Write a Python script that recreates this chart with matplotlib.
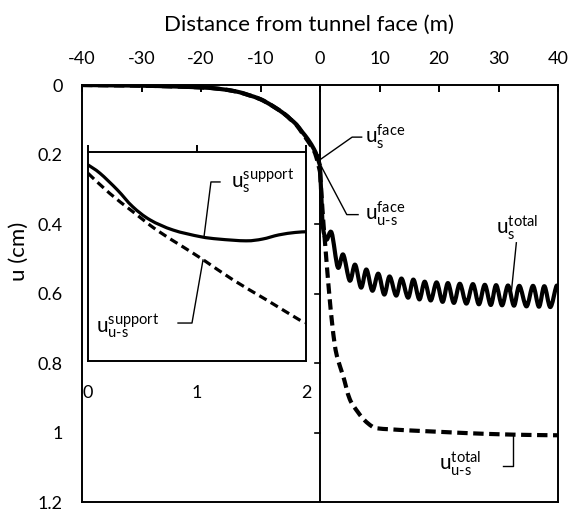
import numpy as np
import matplotlib
matplotlib.use("Agg")
import matplotlib.pyplot as plt
from matplotlib.path import Path
from matplotlib.patches import PathPatch

plt.rcParams["font.family"] = ["Lato", "DejaVu Sans"]
plt.rcParams["mathtext.fontset"] = "custom"
plt.rcParams["mathtext.rm"] = "Lato"
plt.rcParams["mathtext.it"] = "Lato"
plt.rcParams["lines.scale_dashes"] = False

# ---- main chart: displacement along the tunnel (m, cm) ----
x_pre = [-40, -35, -30, -25, -20, -17, -14, -12, -10, -8, -6, -5, -4, -3, -2, -1, -0.5, 0]
us_pre = [0.0, 0.001, 0.002, 0.004, 0.007, 0.011, 0.019, 0.029, 0.041, 0.06, 0.083,
          0.098, 0.113, 0.135, 0.157, 0.185, 0.205, 0.232]
uus_pre = [0.0, 0.001, 0.002, 0.004, 0.007, 0.011, 0.019, 0.029, 0.041, 0.06, 0.083,
           0.098, 0.114, 0.138, 0.162, 0.19, 0.215, 0.25]

# supported, behind the face (oscillates with each excavation round)
x_us_post = [0, 0.25, 0.5, 1.1, 1.95, 3.0, 3.9, 5.0, 5.9, 6.9, 7.8, 8.8, 9.8, 10.8, 11.7,
             12.8, 13.7, 14.8, 15.7, 16.7, 17.6, 18.6, 19.6, 20.6, 21.5, 22.5, 23.5, 24.6,
             25.7, 26.7, 27.7, 28.7, 29.6, 30.6, 31.6, 32.6, 33.5, 34.7, 35.8, 36.8, 37.7,
             38.7, 39.7, 40]
us_post = [0.232, 0.33, 0.41, 0.445, 0.425, 0.525, 0.488, 0.563, 0.517, 0.583, 0.531,
           0.592, 0.543, 0.603, 0.551, 0.606, 0.557, 0.612, 0.560, 0.617, 0.566, 0.620,
           0.568, 0.624, 0.570, 0.627, 0.572, 0.629, 0.573, 0.631, 0.575, 0.633, 0.576,
           0.634, 0.577, 0.635, 0.578, 0.637, 0.578, 0.638, 0.579, 0.639, 0.580, 0.585]

# unsupported, behind the face
x_uus_post = [0, 0.5, 0.85, 1.2, 1.6, 2.0, 2.5, 3.0, 3.9, 5.0, 6.4, 7.5, 8.7, 9.6, 12, 15,
              20, 25, 30, 35, 40]
uus_post = [0.25, 0.38, 0.455, 0.53, 0.61, 0.68, 0.75, 0.79, 0.838, 0.904, 0.942, 0.965,
            0.982, 0.988, 0.991, 0.994, 0.998, 1.002, 1.005, 1.007, 1.008]

# ---- inset: first 2 m behind the face ----
in_x_s = [0, 0.11, 0.27, 0.41, 0.57, 0.78, 1.03, 1.2, 1.45, 1.6, 1.75, 1.9, 2.0]
in_us = [0.237, 0.261, 0.309, 0.357, 0.395, 0.424, 0.443, 0.45, 0.455, 0.45, 0.438,
         0.431, 0.429]
in_x_d = [0, 0.2, 0.41, 0.63, 0.87, 1.06, 1.33, 1.64, 1.94, 2.0]
in_uus = [0.261, 0.319, 0.371, 0.424, 0.472, 0.510, 0.567, 0.625, 0.682, 0.69]

x_ticks = list(range(-40, 41, 10))
y_ticks = [0, 0.2, 0.4, 0.6, 0.8, 1.0, 1.2]
y_tick_labels = ["0", "0.2", "0.4", "0.6", "0.8", "1", "1.2"]
in_ticks = [0, 1, 2]


def smooth_line(ax, x, y, **kw):
    # Catmull-Rom through the points, drawn as cubic Bezier segments
    p = np.column_stack([x, y]).astype(float)
    n = len(p)
    verts = [p[0]]
    codes = [Path.MOVETO]
    for i in range(n - 1):
        a = p[i - 1] if i > 0 else p[i]
        d = p[i + 2] if i + 2 < n else p[i + 1]
        verts += [p[i] + (p[i + 1] - a) / 6, p[i + 1] - (d - p[i]) / 6, p[i + 1]]
        codes += [Path.CURVE4] * 3
    patch = PathPatch(Path(verts, codes), fill=False, capstyle="butt",
                      joinstyle="round", **kw)
    ax.add_patch(patch)
    return patch


fig = plt.figure(figsize=(5.68, 5.11), dpi=100)
W, H = 568, 511
ax = fig.add_axes([82 / W, 1 - 502 / H, (558 - 82) / W, (502 - 85) / H])
ax.set_xlim(-40, 40)
ax.set_ylim(1.2, 0)

for s in ax.spines.values():
    s.set_linewidth(1.4)

ax.xaxis.tick_top()
ax.xaxis.set_label_position("top")
ax.set_xticks(x_ticks)
ax.set_xticklabels([str(v) for v in x_ticks])
ax.tick_params(axis="x", direction="in", length=5, width=1.4, pad=13, labelsize=13)
ax.set_xlabel("Distance from tunnel face (m)", fontsize=16)
ax.xaxis.set_label_coords(0.476, 1.13)

ax.set_yticks(y_ticks)
ax.set_yticklabels(y_tick_labels)
ax.tick_params(axis="y", length=0, pad=14, labelsize=13)
ax.set_ylabel("u (cm)", fontsize=16)
ax.yaxis.set_label_coords(-0.112, 0.60)

# vertical axis at the face with its own tick marks
ax.axvline(0, color="black", lw=1.4, zorder=1)
for t in y_ticks[1:-1]:
    ax.plot([-0.85, 0], [t, t], color="black", lw=1.2, zorder=1)

lw_main = 3.0
smooth_line(ax, x_pre, uus_pre, color="black", lw=lw_main, linestyle=(0, (7.5, 4)), zorder=3)
smooth_line(ax, x_uus_post, uus_post, color="black", lw=lw_main, linestyle=(0, (7.5, 4)), zorder=3)
smooth_line(ax, x_pre, us_pre, color="black", lw=lw_main, zorder=4)
smooth_line(ax, x_us_post, us_post, color="black", lw=lw_main, zorder=4)

lead = dict(color="black", lw=1.0, zorder=5)
lab = dict(fontsize=15, va="center", ha="left", zorder=5)

ax.plot([0.0, 5.4, 7.0], [0.215, 0.150, 0.150], **lead)
ax.text(7.6, 0.150, r"$\mathregular{u_s^{face}}$", **lab)

ax.plot([-0.1, 4.5, 6.4], [0.224, 0.373, 0.373], **lead)
ax.text(7.6, 0.370, r"$\mathregular{u_{u\text{-}s}^{face}}$", **lab)

ax.plot([33.0, 32.2], [0.454, 0.589], **lead)
ax.text(29.6, 0.410, r"$\mathregular{u_s^{total}}$", **lab)

ax.plot([32.4, 32.4, 30.7], [1.005, 1.097, 1.097], **lead)
ax.text(20.0, 1.090, r"$\mathregular{u_{u\text{-}s}^{total}}$", **lab)

# inset
axi = fig.add_axes([88 / W, 1 - 361 / H, (306 - 88) / W, (361 - 152) / H])
axi.set_xlim(0, 2)
axi.set_ylim(0.8, 0.2)
axi.set_facecolor("white")
for s in axi.spines.values():
    s.set_linewidth(1.4)
axi.set_yticks([])
axi.set_xticks(in_ticks)
axi.set_xticklabels([str(v) for v in in_ticks])
axi.tick_params(axis="x", bottom=False, top=True, direction="out", length=5, width=1.4,
                labelbottom=True, labeltop=False, pad=12, labelsize=13)

smooth_line(axi, in_x_d, in_uus, color="black", lw=2.3, linestyle=(0, (6, 3.5)), zorder=3)
smooth_line(axi, in_x_s, in_us, color="black", lw=2.3, zorder=4)

axi.plot([1.064, 1.128, 1.211], [0.444, 0.286, 0.286], **lead)
axi.text(1.31, 0.283, r"$\mathregular{u_s^{support}}$", **lab)

axi.plot([0.826, 0.954, 1.055], [0.691, 0.691, 0.51], **lead)
axi.text(0.075, 0.700, r"$\mathregular{u_{u\text{-}s}^{support}}$", **lab)

fig.savefig("out.png", dpi=100)
